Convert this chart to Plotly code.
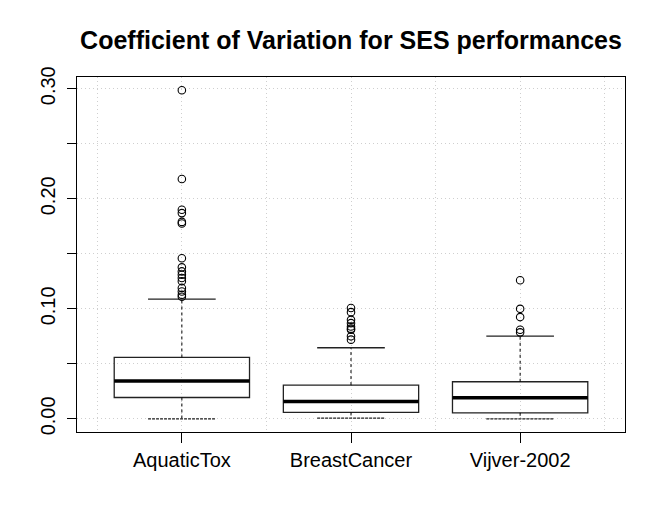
import plotly.graph_objects as go

categories = ["AquaticTox", "BreastCancer", "Vijver-2002"]
q1 = [0.0194, 0.0058, 0.0055]
medians = [0.0343, 0.0158, 0.0191]
q3 = [0.0558, 0.0307, 0.0337]
lower_whisker = [0.0, 0.0006, 0.0]
upper_whisker = [0.1089, 0.0646, 0.0752]
outliers = [
    [0.2987, 0.218, 0.190, 0.187, 0.179, 0.1775, 0.146, 0.1377, 0.134, 0.131,
     0.128, 0.125, 0.119, 0.1158, 0.1128, 0.111],
    [0.1007, 0.097, 0.090, 0.087, 0.084, 0.082, 0.081, 0.075, 0.072],
    [0.126, 0.100, 0.0925, 0.081, 0.0786],
]
y_tickvals = [0.0, 0.05, 0.10, 0.15, 0.20, 0.25, 0.30]
y_ticktext = ["0.00", "", "0.10", "", "0.20", "", "0.30"]

FONT = "Liberation Sans, Arial, Helvetica, sans-serif"
BOX_W = 0.8
CAP_W = 0.4
GRID = "#cfcfcf"

fig = go.Figure()
for i, cat in enumerate(categories):
    xc = i + 1
    fig.add_trace(go.Box(
        x=[xc], q1=[q1[i]], median=[medians[i]], q3=[q3[i]],
        lowerfence=[q1[i]], upperfence=[q3[i]],
        width=BOX_W, fillcolor="rgba(255,255,255,0)",
        line=dict(color="#222222", width=1.3), boxpoints=False,
        showlegend=False, hoverinfo="skip",
    ))
    fig.add_trace(go.Scatter(
        x=[xc - BOX_W / 2, xc + BOX_W / 2], y=[medians[i], medians[i]],
        mode="lines", line=dict(color="black", width=3.5),
        showlegend=False, hoverinfo="skip",
    ))
    for a, b in ((q3[i], upper_whisker[i]), (q1[i], lower_whisker[i])):
        fig.add_trace(go.Scatter(
            x=[xc, xc], y=[a, b], mode="lines",
            line=dict(color="black", width=1, dash="3px,3px"),
            showlegend=False, hoverinfo="skip",
        ))
    fig.add_trace(go.Scatter(
        x=[xc - CAP_W / 2, xc + CAP_W / 2], y=[upper_whisker[i]] * 2,
        mode="lines", line=dict(color="#222222", width=1.3),
        showlegend=False, hoverinfo="skip",
    ))
    fig.add_trace(go.Scatter(
        x=[xc - CAP_W / 2, xc + CAP_W / 2], y=[lower_whisker[i]] * 2,
        mode="lines", line=dict(color="#222222", width=1.3, dash="3px,1px"),
        showlegend=False, hoverinfo="skip",
    ))
    fig.add_trace(go.Scatter(
        x=[xc] * len(outliers[i]), y=outliers[i], mode="markers",
        marker=dict(symbol="circle-open", size=7.5, color="black",
                    line=dict(width=1.1, color="black")),
        showlegend=False, hoverinfo="skip",
    ))

fig.update_layout(
    width=664, height=529,
    margin=dict(l=69, r=47, t=69, b=105, autoexpand=False),
    paper_bgcolor="white", plot_bgcolor="white",
    font=dict(family=FONT, size=20, color="black"),
    title=dict(text="<b>Coefficient of Variation for SES performances</b>",
               x=0.5, xref="paper", xanchor="center",
               y=1 - 32 / 529, yref="container", yanchor="middle",
               font=dict(family=FONT, size=25, color="black")),
    xaxis=dict(
        range=[0.38, 3.62], tickmode="array", tickvals=[1, 2, 3],
        ticktext=categories, ticks="outside", ticklen=10, tickwidth=1,
        tickcolor="black", showline=True, linecolor="black", linewidth=1.3,
        mirror=True, zeroline=False, automargin=False,
        showgrid=True, gridcolor=GRID, griddash="1px,3px", gridwidth=1,
        minor=dict(tickvals=[0.5, 1.5, 2.5, 3.5], showgrid=True,
                   gridcolor=GRID, griddash="1px,3px", gridwidth=1, ticklen=0),
        tickfont=dict(size=20),
    ),
    yaxis=dict(
        range=[-0.01195, 0.3107], tickmode="array", tickvals=y_tickvals,
        ticktext=y_ticktext, ticks="outside", ticklen=9, tickwidth=1,
        tickcolor="black", tickangle=-90, showline=True, linecolor="black",
        linewidth=1.3, mirror=True, zeroline=False, automargin=False,
        showgrid=True, gridcolor=GRID, griddash="1px,3px", gridwidth=1,
        tickfont=dict(size=20), ticklabelstandoff=4,
    ),
)

fig.write_html("out.html")
